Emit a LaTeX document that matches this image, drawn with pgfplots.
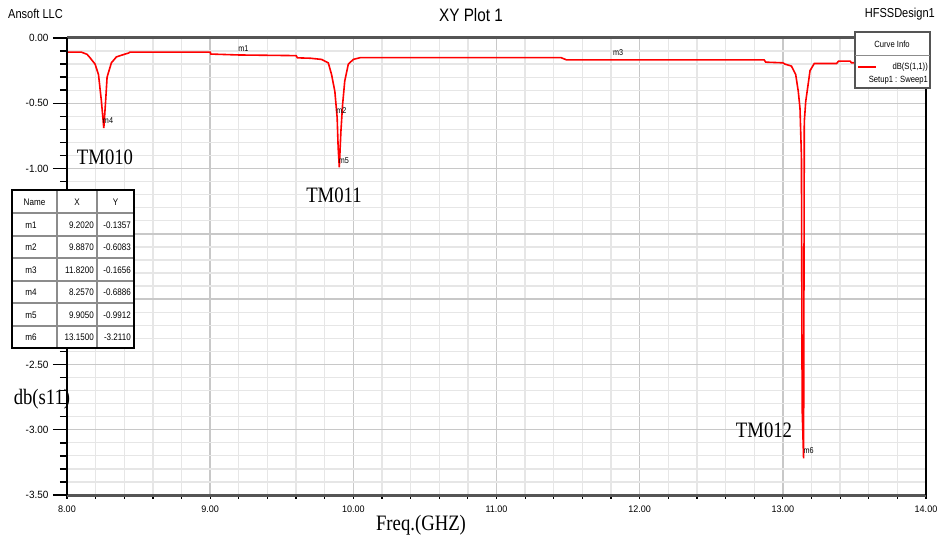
\documentclass[border=0pt]{standalone}
\usepackage{pgfplots}
\pgfplotsset{compat=1.18}
\usepackage{fontspec}
\setmainfont{Liberation Serif}[FakeStretch=0.85]
\newfontfamily\hsans{Liberation Sans}[FakeStretch=0.85]
\newfontfamily\hsansw{Liberation Sans}[FakeStretch=0.95]
\definecolor{hred}{RGB}{255,0,0}
\definecolor{majg}{RGB}{200,200,200}
\definecolor{ming}{RGB}{230,230,230}
\definecolor{frm}{RGB}{85,85,85}
\definecolor{tbl}{RGB}{140,140,140}

\pgfplotstableread{
x y
8.00 -0.108
8.10 -0.108
8.14 -0.125
8.16 -0.15
8.196 -0.20
8.22 -0.28
8.24 -0.48
8.257 -0.69
8.27 -0.48
8.28 -0.30
8.31 -0.19
8.345 -0.145
8.40 -0.125
8.43 -0.115
8.44 -0.108
9.00 -0.108
9.005 -0.123
9.20 -0.13
9.60 -0.135
9.61 -0.152
9.70 -0.155
9.778 -0.164
9.825 -0.19
9.848 -0.28
9.871 -0.41
9.887 -0.61
9.894 -0.84
9.902 -0.99
9.913 -0.72
9.925 -0.51
9.94 -0.33
9.965 -0.20
10.00 -0.164
10.05 -0.15
11.45 -0.15
11.49 -0.168
12.87 -0.168
12.88 -0.185
13.00 -0.19
13.015 -0.20
13.06 -0.215
13.09 -0.28
13.108 -0.41
13.12 -0.54
13.13 -0.91
13.135 -2.84
13.145 -3.22
13.15 -0.64
13.16 -0.485
13.18 -0.33
13.19 -0.25
13.22 -0.195
13.375 -0.195
13.39 -0.177
13.47 -0.177
13.48 -0.19
13.60 -0.185
14.00 -0.18
}\sone

\pgfplotstableread{
x y label
9.202 -0.1357 m1
9.887 -0.6083 m2
11.82 -0.1656 m3
8.257 -0.6886 m4
9.905 -0.9912 m5
13.15 -3.211 m6
}\markers

\begin{document}
\begin{tikzpicture}
\path[use as bounding box, fill=white] (0,0) rectangle (938pt,542pt);
% short x ticks
\begin{axis}[
  at={(67pt,47pt)}, anchor=south west, scale only axis,
  width=859pt, height=457pt,
  xmin=8, xmax=14, ymin=-3.5, ymax=0,
  hide y axis, axis x line*=bottom, x axis line style={draw=none},
  xtick={8,9,...,14}, minor x tick num=4, xticklabels={},
  tick align=outside, major tick length=3.5pt, minor tick length=3.5pt,
  xtick style={black, line width=1.2pt}, minor x tick style={black, line width=1.2pt},
]
\end{axis}
\begin{axis}[
  at={(67pt,47pt)}, anchor=south west, scale only axis,
  width=859pt, height=457pt,
  xmin=8, xmax=14, ymin=-3.5, ymax=0,
  xtick={8,9,...,14}, minor x tick num=4,
  ytick={-3.5,-3,-2.5,-2,-1.5,-1,-0.5,0}, minor y tick num=4,
  xticklabels={8.00,9.00,10.00,11.00,12.00,13.00,14.00},
  yticklabels={-3.50,-3.00,-2.50,{},{},-1.00,-0.50,0.00},
  xtick pos=bottom, ytick pos=left,
  grid=both,
  major grid style={draw=majg, line width=1.5pt},
  minor grid style={draw=ming, line width=1.3pt},
  axis line style={draw=none},
  tick align=outside,
  major tick length=14pt, minor tick length=7pt,
  xtick style={draw=none}, minor x tick style={draw=none},
  ytick style={black, line width=1.5pt},
  minor y tick style={black, line width=1.5pt},
  xticklabel style={font=\hsansw\fontsize{9.5}{9.5}\selectfont, yshift=7pt},
  yticklabel style={font=\hsansw\fontsize{10.5}{10.5}\selectfont, xshift=-1pt},
  clip=false,
]
\addplot[hred, line width=1.6pt] table {\sone};
\addplot[draw=none, mark=none, nodes near coords, point meta=explicit symbolic,
  nodes near coords style={anchor=west, yshift=7pt, xshift=-1pt, inner sep=0pt,
  font=\hsans\fontsize{8.5}{8.5}\selectfont, text=black}] table[meta=label] {\markers};
\draw[frm, line width=3pt] (rel axis cs:0,1) -- (rel axis cs:1,1);
\draw[frm, line width=3pt] (rel axis cs:0,0) -- (rel axis cs:1,0);
\draw[black, line width=1.3pt] (rel axis cs:0,0) -- (rel axis cs:0,1);
\draw[black, line width=1.3pt] (rel axis cs:1,0) -- (rel axis cs:1,1);
\end{axis}
\begin{scope}[shift={(0,542pt)}, x=1pt, y=-1pt]
  % header texts
  \node[anchor=west, inner sep=0pt, font=\hsans\fontsize{13}{13}\selectfont] at (8,14) {Ansoft LLC};
  \node[inner sep=0pt, font=\hsans\fontsize{18}{18}\selectfont] at (471,15) {XY Plot 1};
  \node[anchor=east, inner sep=0pt, font=\hsans\fontsize{13}{13}\selectfont] at (935,14) {HFSSDesign1};
  % axis labels and annotations
  \node[inner sep=0pt, font=\fontsize{22}{22}\selectfont] at (421,525) {Freq.(GHZ)};
  \node[inner sep=0pt, font=\fontsize{22}{22}\selectfont] at (42,399) {db(s11)};
  \node[inner sep=0pt, font=\fontsize{22}{22}\selectfont] at (105,157) {TM010};
  \node[inner sep=0pt, font=\fontsize{22}{22}\selectfont] at (334,195) {TM011};
  \node[inner sep=0pt, font=\fontsize{22}{22}\selectfont] at (764,430) {TM012};
  % legend box
  \fill[white] (855,32) rectangle (930,88);
  \draw[frm, line width=1.8pt] (855,32) rectangle (930,88);
  \draw[tbl, line width=0.8pt] (855,55) -- (930,55);
  \node[inner sep=0pt, font=\hsans\fontsize{9}{9}\selectfont] at (892,44) {Curve Info};
  \draw[hred, line width=1.6pt] (858,67) -- (876,67);
  \node[anchor=east, inner sep=0pt, font=\hsans\fontsize{9}{9}\selectfont] at (928,67) {dB(S(1,1))};
  \node[anchor=east, inner sep=0pt, font=\hsans\fontsize{9}{9}\selectfont] at (928,80) {Setup1 : Sweep1};
  % marker table
  \fill[white] (12,190) rectangle (134,348);
  \foreach \yy in {213,236,258,281,303,326} {\draw[tbl, line width=1.4pt] (12,\yy) -- (134,\yy);}
  \foreach \xx in {57,97} {\draw[tbl, line width=1.4pt] (\xx,190) -- (\xx,348);}
  \draw[black, line width=1.8pt] (12,190) rectangle (134,348);
  \begin{scope}[every node/.style={inner sep=0pt, font=\hsans\fontsize{9.5}{9.5}\selectfont}]
    \node at (34.5,202) {Name}; \node at (77,202) {X}; \node at (115.5,202) {Y};
    \node at (31,225) {m1}; \node[anchor=east] at (94,225) {9.2020}; \node[anchor=east] at (131,225) {-0.1357};
    \node at (31,247) {m2}; \node[anchor=east] at (94,247) {9.8870}; \node[anchor=east] at (131,247) {-0.6083};
    \node at (31,270) {m3}; \node[anchor=east] at (94,270) {11.8200}; \node[anchor=east] at (131,270) {-0.1656};
    \node at (31,292) {m4}; \node[anchor=east] at (94,292) {8.2570}; \node[anchor=east] at (131,292) {-0.6886};
    \node at (31,315) {m5}; \node[anchor=east] at (94,315) {9.9050}; \node[anchor=east] at (131,315) {-0.9912};
    \node at (31,337) {m6}; \node[anchor=east] at (94,337) {13.1500}; \node[anchor=east] at (131,337) {-3.2110};
  \end{scope}
\end{scope}
\end{tikzpicture}
\end{document}
